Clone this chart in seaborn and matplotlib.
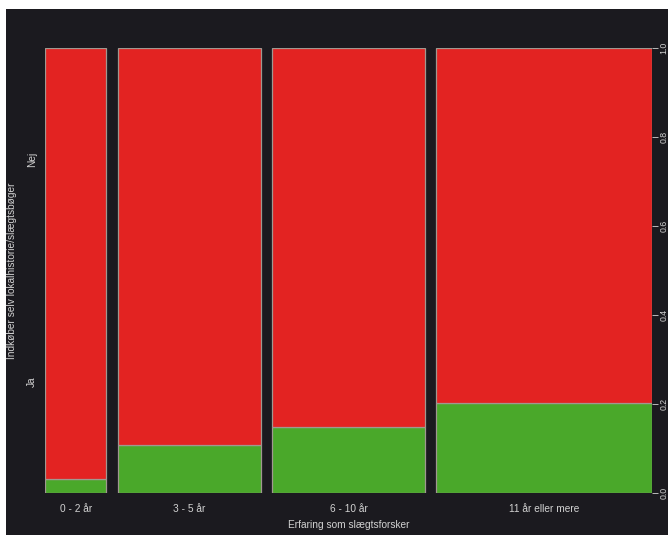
import matplotlib
matplotlib.use("Agg")
import matplotlib.pyplot as plt
import numpy as np
import seaborn as sns
from matplotlib.patches import Rectangle

# spine plot data: share of respondents per experience group (bar width)
# and share answering "Ja" within each group
groups = ["0 - 2 år", "3 - 5 år", "6 - 10 år", "11 år eller mere"]
group_share = [0.107, 0.250, 0.266, 0.377]
ja_share = [0.031, 0.108, 0.148, 0.202]
answer_labels = ["Ja", "Nej"]
y_ticks = [0.0, 0.2, 0.4, 0.6, 0.8, 1.0]
y_tick_labels = ["0.0", "0.2", "0.4", "0.6", "0.8", "1.0"]

BG = "#1b1a1f"
RED = "#e32322"
GREEN = "#4aa82a"
TXT = "#d2d2d2"
EDGE = "#a09890"

sns.set_style("dark")
plt.rcParams["font.family"] = ["Liberation Sans", "DejaVu Sans"]
FS = 7.3

fig = plt.figure(figsize=(6.68, 5.35), dpi=100, facecolor="white")
fig.patches.append(Rectangle((6 / 668, 0), 1, (535 - 9) / 535,
                             transform=fig.transFigure, facecolor=BG,
                             edgecolor="none", zorder=-1))
ax = fig.add_axes([45 / 668, 1 - 493 / 535, (652 - 45) / 668, (493 - 48) / 535])
ax.set_facecolor(BG)

gap = 0.02
widths = np.array(group_share) / sum(group_share)
lefts = np.concatenate([[0], np.cumsum(widths[:-1] + gap)])
ja = np.array(ja_share)

ax.bar(lefts, ja, width=widths, align="edge", color=GREEN,
       edgecolor=EDGE, linewidth=0.9)
ax.bar(lefts, 1 - ja, bottom=ja, width=widths, align="edge", color=RED,
       edgecolor=EDGE, linewidth=0.9)

ax.set_xlim(0, lefts[-1] + widths[-1])
ax.set_ylim(0, 1)
for s in ax.spines.values():
    s.set_visible(False)
ax.grid(False)

ax.set_xticks(lefts + widths / 2)
ax.set_xticklabels(groups, color=TXT, fontsize=FS)
ax.tick_params(axis="x", length=0, pad=8)

ax.yaxis.tick_right()
ax.set_yticks(y_ticks)
ax.set_yticklabels(y_tick_labels, rotation=90, va="center", color=TXT, fontsize=6.3)
ax.tick_params(axis="y", right=True, length=4, width=0.6, color=TXT, pad=1.5)

for lab, pos in zip(answer_labels, [0.25, 0.75]):
    ax.text(-0.022, pos, lab, transform=ax.transAxes, rotation=90,
            ha="center", va="center", color=TXT, fontsize=FS)
ax.text(-0.055, 0.5, "Indkøber selv lokalhistorie/slægtsbøger",
        transform=ax.transAxes, rotation=90, ha="center", va="center",
        color=TXT, fontsize=FS)
ax.set_xlabel("Erfaring som slægtsforsker", color=TXT, fontsize=FS, labelpad=4)

fig.savefig("out.png", dpi=100, facecolor=fig.get_facecolor())
